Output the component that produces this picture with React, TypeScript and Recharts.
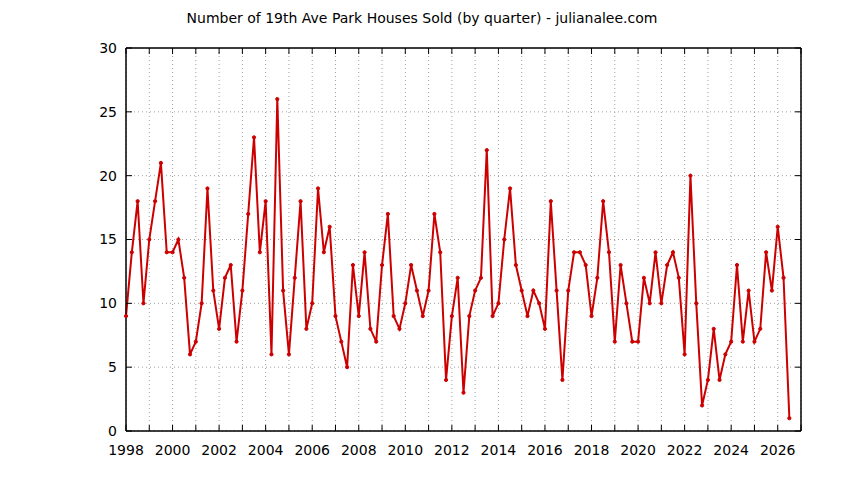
import {CartesianGrid, Line, LineChart, ReferenceArea, XAxis, YAxis} from 'recharts'

const title = 'Number of 19th Ave Park Houses Sold (by quarter) - julianalee.com'

// first quarter plotted, one point per quarter after that
const startYear = 1998
const housesSold = [
	9, 14, 18, 10, 15, 18, 21, 14, 14, 15, 12, 6, 7, 10, 19, 11, 8, 12, 13, 7, 11, 17, 23, 14, 18, 6, 26,
	11, 6, 12, 18, 8, 10, 19, 14, 16, 9, 7, 5, 13, 9, 14, 8, 7, 13, 17, 9, 8, 10, 13, 11, 9, 11, 17, 14,
	4, 9, 12, 3, 9, 11, 12, 22, 9, 10, 15, 19, 13, 11, 9, 11, 10, 8, 18, 11, 4, 11, 14, 14, 13, 9, 12,
	18, 14, 7, 13, 10, 7, 7, 12, 10, 14, 10, 13, 14, 12, 6, 20, 10, 2, 4, 8, 4, 6, 7, 13, 7, 11, 7, 8, 14, 11, 16, 12, 1,
]

const yearTicks = [
	1998, 1999, 2000, 2001, 2002, 2003, 2004, 2005, 2006, 2007, 2008, 2009, 2010, 2011, 2012, 2013, 2014,
	2015, 2016, 2017, 2018, 2019, 2020, 2021, 2022, 2023, 2024, 2025, 2026, 2027,
]
const countTicks = [0, 5, 10, 15, 20, 25, 30]

const data = housesSold.map((count, i) => ({quarter: startYear + i / 4, count}))

const font = "'DejaVu Sans', Verdana, sans-serif"
const red = '#cc0000'
const hiddenLabel = {fill: 'none', fontSize: 1}

export default function App() {
	return (
		<div style={{position: 'absolute', left: 0, top: 0, width: 844, height: 480, background: '#fff', fontFamily: font}}>
			<div style={{position: 'absolute', left: 0, top: 10, width: 844, textAlign: 'center', fontSize: 14, color: '#000'}}>
				{title}
			</div>
			<LineChart width={844} height={480} data={data} margin={{top: 47, right: 42, left: 96, bottom: 19}}>
				<CartesianGrid stroke='#a0a0a0' strokeDasharray='1 3' />
				<XAxis
					dataKey='quarter'
					type='number'
					domain={[1998, 2027]}
					ticks={yearTicks}
					interval={0}
					tickFormatter={(v: number) => (v % 2 === 0 ? String(v) : '')}
					tick={{fill: '#000', fontSize: 14, fontFamily: font}}
					tickSize={-6}
					tickMargin={20}
					stroke='#000'
					height={30}
				/>
				{/* mirrored ticks along the top edge, gnuplot style */}
				<XAxis
					xAxisId='top'
					dataKey='quarter'
					orientation='top'
					type='number'
					domain={[1998, 2027]}
					ticks={yearTicks}
					interval={0}
					tick={hiddenLabel}
					tickSize={-6}
					stroke='#000'
					height={1}
				/>
				<YAxis
					type='number'
					domain={[0, 30]}
					ticks={countTicks}
					interval={0}
					tick={{fill: '#000', fontSize: 14, fontFamily: font}}
					tickSize={-6}
					tickMargin={15}
					stroke='#000'
					width={30}
				/>
				<YAxis
					yAxisId='right'
					orientation='right'
					type='number'
					domain={[0, 30]}
					ticks={countTicks}
					interval={0}
					tick={hiddenLabel}
					tickSize={-6}
					stroke='#000'
					width={1}
				/>
				<ReferenceArea x1={1998} x2={2027} y1={0} y2={30} fill='none' stroke='#000' strokeWidth={1} ifOverflow='visible' />
				{/* invisible twin so the mirror axes get drawn */}
				<Line
					xAxisId='top'
					yAxisId='right'
					dataKey='count'
					stroke='none'
					dot={false}
					activeDot={false}
					legendType='none'
					isAnimationActive={false}
				/>
				<Line
					dataKey='count'
					stroke={red}
					strokeWidth={2}
					dot={{r: 1.6, fill: red, stroke: red, strokeWidth: 1}}
					activeDot={false}
					isAnimationActive={false}
				/>
			</LineChart>
		</div>
	)
}
